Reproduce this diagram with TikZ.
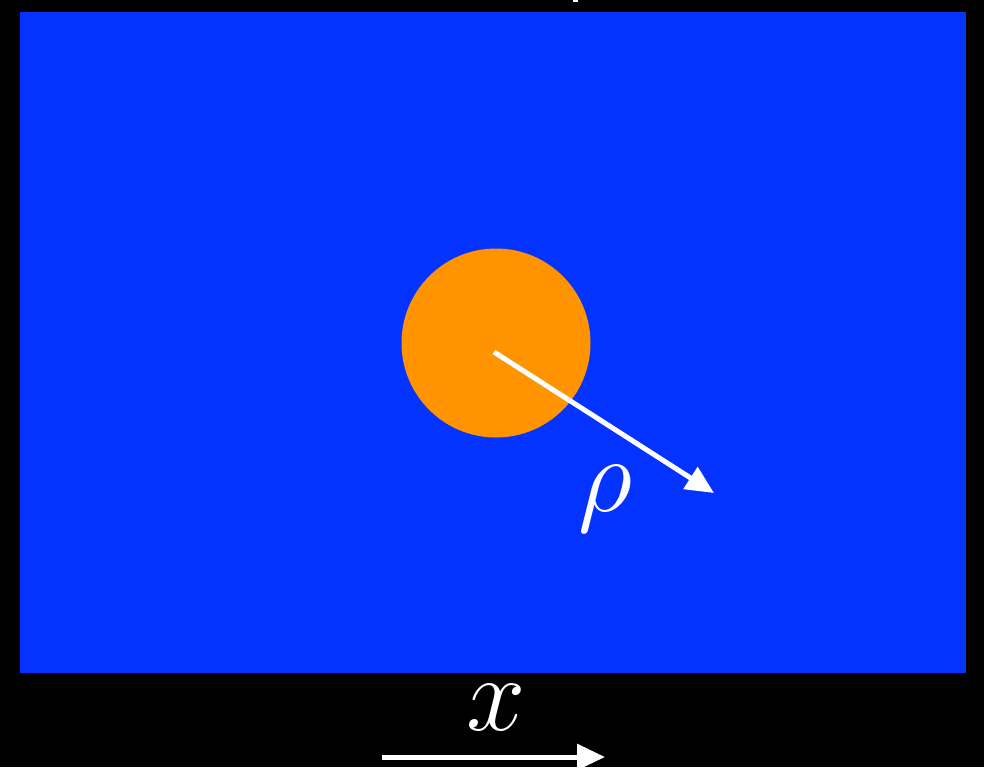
\documentclass[tikz,border=0pt]{standalone}
\usepackage{fix-cm}
\usetikzlibrary{arrows.meta}
\definecolor{bgblue}{HTML}{0433FF}
\definecolor{dotorange}{HTML}{FF9300}
\tikzset{
  whitearrow/.style={draw=white, line width=3.75pt, -{Triangle[length=21pt,width=19pt]}},
  biglabel/.style={text=white, inner sep=0pt, font=\fontsize{80}{80}\selectfont}
}
\begin{document}
\begin{tikzpicture}[x=0.75pt,y=-0.75pt]
\fill[black] (0,0) rectangle (984,767);
\useasboundingbox (0,0) rectangle (984,767);
\fill[bgblue] (20,12) rectangle (966,673);
\fill[white] (573,0) rectangle (578,2.5);
\fill[dotorange] (496,343) circle[radius=94.5];
\coordinate (c) at (494,352);
\coordinate (r) at (714,493);
\draw[whitearrow] (c) -- (r);
\node[biglabel] (rho) at (605,499) {$\rho$};
\coordinate (xa) at (382,757);
\coordinate (xb) at (605,757);
\draw[whitearrow] (xa) -- (xb);
\node[biglabel] (xl) at (496,708) {$x$};
\end{tikzpicture}
\end{document}
